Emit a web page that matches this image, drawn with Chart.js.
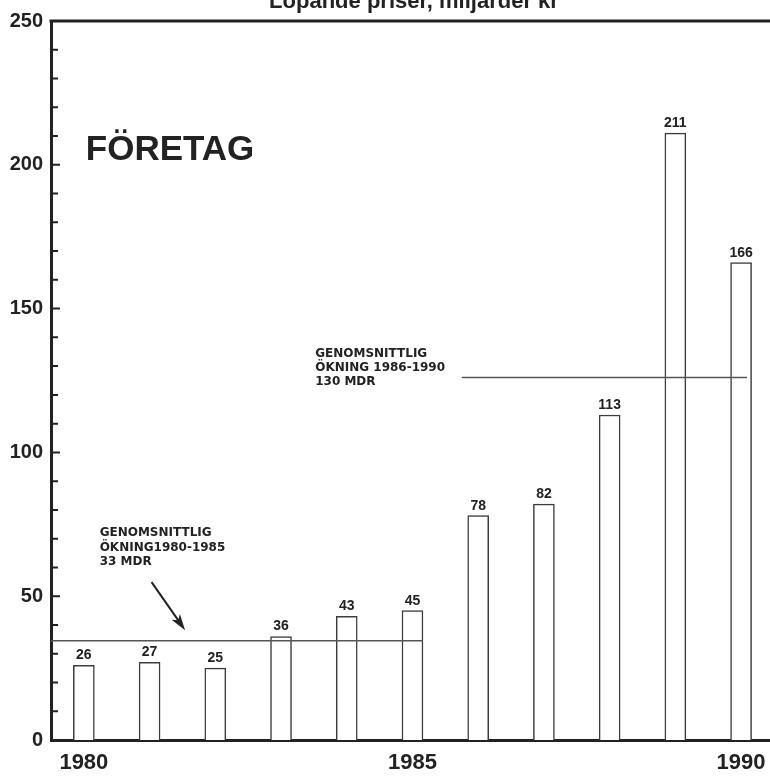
<!DOCTYPE html>
<html>
<head>
<meta charset="utf-8">
<script src="https://cdn.jsdelivr.net/npm/chart.js@4"></script>
<style>
  body { margin: 0; background: #fff; }
  #wrap { width: 770px; height: 777px; position: relative; }
</style>
</head>
<body>
<div id="wrap"><canvas id="foretagChart"></canvas></div>
<script>
const years = [1980, 1981, 1982, 1983, 1984, 1985, 1986, 1987, 1988, 1989, 1990];
const values = [26, 27, 25, 36, 43, 45, 78, 82, 113, 211, 166];
const xTickLabels = [1980, 1985, 1990];
const yTickStep = 50;

// average lines (data units)
const avgLine1X = [1979.5, 1985.16];
const avgLine1Y = [34.5, 34.5];
const avgLine2X = [1985.75, 1990.09];
const avgLine2Y = [126, 126];

// arrow pointing at the first average line
const arrowX = [1981.03, 1981.54];
const arrowY = [54.9, 38.2];

const note1Lines = ['GENOMSNITTLIG', 'ÖKNING1980-1985', '33 MDR'];
const note2Lines = ['GENOMSNITTLIG', 'ÖKNING 1986-1990', '130 MDR'];
const titleText = 'Löpande priser, miljarder kr';
const bigLabel = 'FÖRETAG';

const ink = '#222';
const barInk = '#3c3c3c';

function toPoints(xs, ys) {
    return xs.map((x, i) => ({ x: x, y: ys[i] }));
}

const overlayPlugin = {
    id: 'overlay',
    afterDatasetsDraw(chart) {
        const ctx = chart.ctx;
        const xs = chart.scales.x;
        const ys = chart.scales.y;
        const area = chart.chartArea;
        ctx.save();

        // top frame line
        ctx.strokeStyle = ink;
        ctx.lineWidth = 3;
        ctx.beginPath();
        ctx.moveTo(area.left - 1.5, ys.getPixelForValue(250));
        ctx.lineTo(area.right, ys.getPixelForValue(250));
        ctx.stroke();

        // small ticks on the inside of the y axis
        ctx.lineWidth = 2;
        ctx.beginPath();
        for (let v = 10; v < 250; v += 10) {
            const py = ys.getPixelForValue(v);
            ctx.moveTo(area.left, py);
            ctx.lineTo(area.left + (v % 50 === 0 ? 9 : 7), py);
        }
        ctx.stroke();

        // value labels over the bars
        const meta = chart.getDatasetMeta(0);
        ctx.fillStyle = ink;
        ctx.font = 'bold 14px "Liberation Sans"';
        ctx.textAlign = 'center';
        ctx.textBaseline = 'alphabetic';
        meta.data.forEach((bar, i) => {
            ctx.fillText(String(values[i]), bar.x, bar.y - 6);
        });

        // arrow
        const x0 = xs.getPixelForValue(arrowX[0]), y0 = ys.getPixelForValue(arrowY[0]);
        const x1 = xs.getPixelForValue(arrowX[1]), y1 = ys.getPixelForValue(arrowY[1]);
        const ang = Math.atan2(y1 - y0, x1 - x0);
        ctx.strokeStyle = ink;
        ctx.lineWidth = 2;
        ctx.beginPath();
        ctx.moveTo(x0, y0);
        ctx.lineTo(x1 - 10 * Math.cos(ang), y1 - 10 * Math.sin(ang));
        ctx.stroke();
        ctx.beginPath();
        ctx.moveTo(x1, y1);
        ctx.lineTo(x1 - 17 * Math.cos(ang - 0.3), y1 - 17 * Math.sin(ang - 0.3));
        ctx.lineTo(x1 - 12 * Math.cos(ang), y1 - 12 * Math.sin(ang));
        ctx.lineTo(x1 - 17 * Math.cos(ang + 0.3), y1 - 17 * Math.sin(ang + 0.3));
        ctx.closePath();
        ctx.fill();

        // notes
        ctx.font = 'bold 12px "DejaVu Sans"';
        ctx.textAlign = 'left';
        ctx.textBaseline = 'middle';
        const n1x = xs.getPixelForValue(1980.24), n1y = ys.getPixelForValue(72);
        note1Lines.forEach((t, i) => ctx.fillText(t, n1x, n1y + i * 14.5));
        const n2x = xs.getPixelForValue(1983.52), n2y = ys.getPixelForValue(134.2);
        note2Lines.forEach((t, i) => ctx.fillText(t, n2x, n2y + i * 14));

        // big label
        ctx.font = 'bold 35px "Liberation Sans"';
        ctx.textBaseline = 'alphabetic';
        ctx.fillText(bigLabel, xs.getPixelForValue(1980.03), ys.getPixelForValue(201.8));

        // title, cut by the top edge
        ctx.font = 'bold 22px "Liberation Sans"';
        ctx.textAlign = 'center';
        ctx.fillText(titleText, 414, 8);

        ctx.restore();
    }
};

const chartElement = document.getElementById('foretagChart');

const foretagChart = new Chart(chartElement, {
    type: 'bar',
    data: {
        datasets: [{
            type: 'bar',
            label: 'Företag',
            data: toPoints(years, values),
            backgroundColor: '#fff',
            borderColor: barInk,
            borderWidth: 1.5,
            barThickness: 21,
            order: 2
        }, {
            type: 'line',
            label: 'Genomsnitt 1980-1985',
            data: toPoints(avgLine1X, avgLine1Y),
            borderColor: '#555',
            borderWidth: 1.5,
            pointRadius: 0,
            order: 1
        }, {
            type: 'line',
            label: 'Genomsnitt 1986-1990',
            data: toPoints(avgLine2X, avgLine2Y),
            borderColor: '#555',
            borderWidth: 1.5,
            pointRadius: 0,
            order: 1
        }]
    },
    options: {
        responsive: true,
        maintainAspectRatio: false,
        animation: false,
        layout: { padding: { top: 21, left: 0, right: 0, bottom: 0 } },
        plugins: {
            legend: { display: false },
            tooltip: { enabled: false },
            title: { display: false }
        },
        scales: {
            x: {
                type: 'linear',
                min: 1979.5,
                max: 1990.44,
                offset: false,
                grid: { display: false, drawTicks: false, offset: false },
                border: { display: true, color: ink, width: 3 },
                afterBuildTicks: axis => {
                    axis.ticks = xTickLabels.map(v => ({ value: v }));
                },
                afterFit: axis => {
                    axis.height = 37;
                    axis.paddingLeft = 0;
                    axis.paddingRight = 0;
                },
                ticks: {
                    padding: 10,
                    maxRotation: 0,
                    autoSkip: false,
                    color: ink,
                    font: { family: 'Liberation Sans', size: 22, weight: 'bold' },
                    callback: v => String(v)
                }
            },
            y: {
                min: 0,
                max: 250,
                grid: { display: false, drawTicks: false },
                border: { display: true, color: ink, width: 3 },
                afterFit: axis => { axis.width = 51; },
                ticks: {
                    stepSize: yTickStep,
                    padding: 8,
                    color: ink,
                    font: { family: 'Liberation Sans', size: 20, weight: 'bold' },
                    callback: v => v
                }
            }
        }
    },
    plugins: [overlayPlugin]
});
</script>
</body>
</html>
